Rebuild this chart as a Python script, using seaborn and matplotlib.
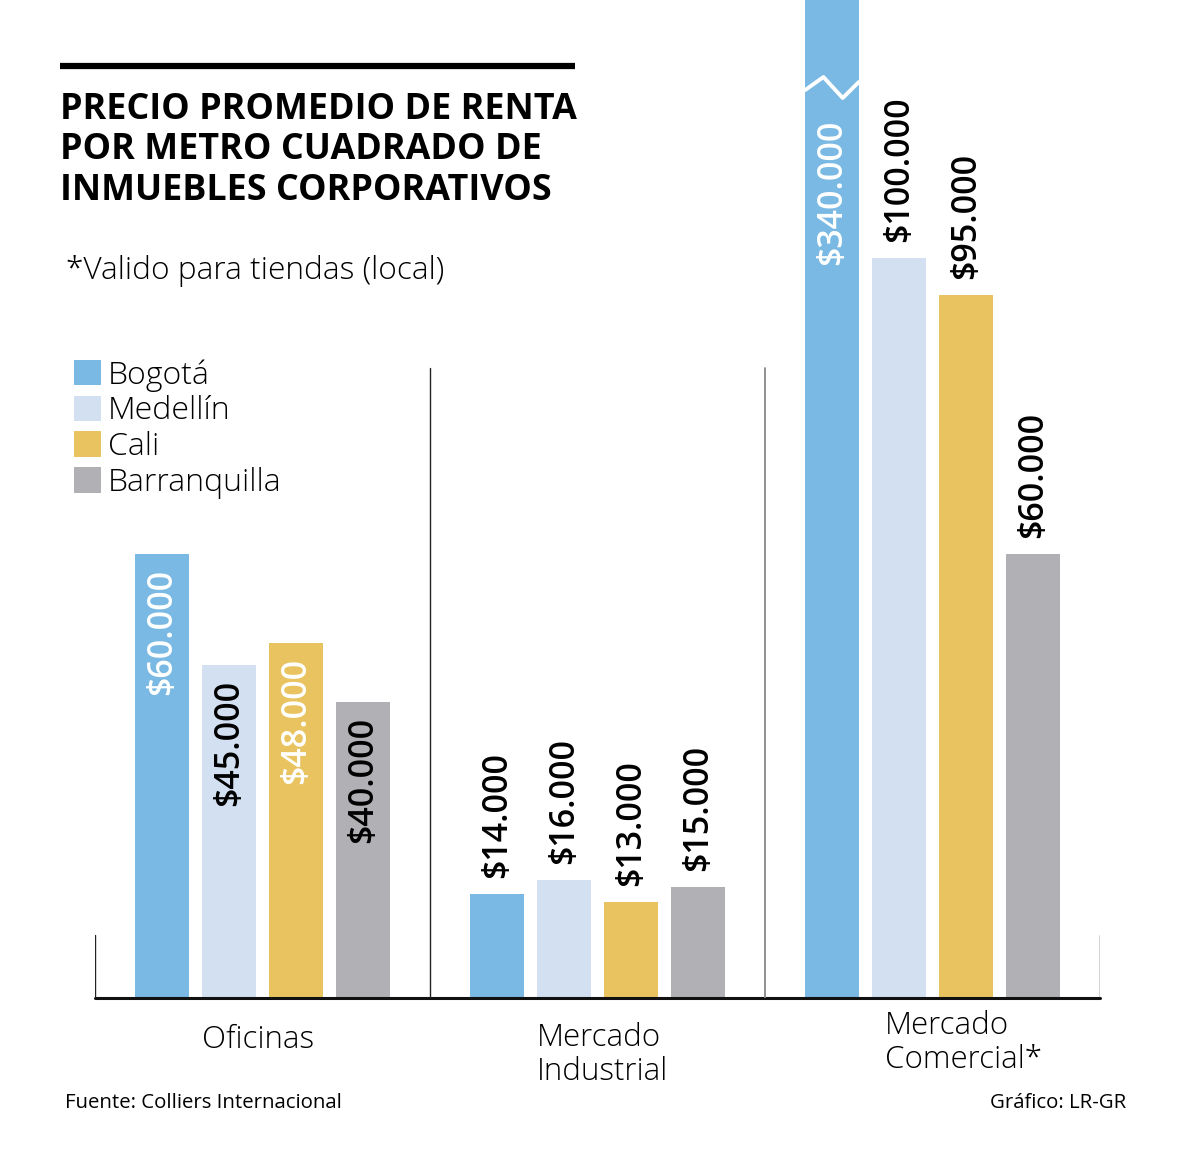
import pandas as pd
import matplotlib
matplotlib.use("Agg")
from matplotlib import pyplot as plt
from matplotlib.lines import Line2D
import seaborn as sns

sns.set_theme(style="white")
plt.rcParams["font.family"] = ["Open Sans", "DejaVu Sans"]
plt.rcParams["text.color"] = "black"

categorias = ["Oficinas", "Mercado Industrial", "Mercado Comercial*"]
ciudades = ["Bogotá", "Medellín", "Cali", "Barranquilla"]
bogota = [60000, 14000, 340000]
medellin = [45000, 16000, 100000]
cali = [48000, 13000, 95000]
barranquilla = [40000, 15000, 60000]
colores = ["#79b9e3", "#d3e0f1", "#e8c360", "#b1b0b5"]
texto_blanco = [True, False, True, False]

valores = [bogota, medellin, cali, barranquilla]
df = pd.DataFrame({
    "categoria": [c for _ in ciudades for c in categorias],
    "ciudad": [ci for ci in ciudades for _ in categorias],
    "valor": [v for serie in valores for v in serie],
})

fig = plt.figure(figsize=(12, 11.72), dpi=100)
W, H = 1200, 1172
ax = fig.add_axes([95 / W, 1 - 998 / H, 1005 / W, 998 / H])

sns.barplot(data=df, x="categoria", y="valor", hue="ciudad", order=categorias,
            hue_order=ciudades, palette=colores, saturation=1, width=0.8,
            gap=0.2, linewidth=0, ax=ax)

ax.set_xlim(-0.5, 2.5)
ax.set_ylim(0, 998 / 0.0074)
for s in ax.spines.values():
    s.set_visible(False)
ax.set_xticks([])
ax.set_yticks([])
ax.set_xlabel("")
ax.set_ylabel("")

# linea base y separadores
ax.axhline(0, color="#111111", lw=2.2, clip_on=False)
for x in [-0.5, 2.5]:
    ax.axvline(x, ymin=0, ymax=0.063, color="#222222", lw=1)
ax.axvline(0.5, ymin=0, ymax=0.631, color="#222222", lw=1)
ax.axvline(1.5, ymin=0, ymax=0.631, color="#888888", lw=1.3)

ymax = ax.get_ylim()[1]
for k, (cont, ciudad) in enumerate(zip(ax.containers, ciudades)):
    for j, bar in enumerate(cont):
        v = bar.get_height()
        xc = bar.get_x() + bar.get_width() / 2
        txt = "$" + f"{int(v):,}".replace(",", ".")
        color = "white" if texto_blanco[k] else "black"
        if v > ymax:
            # barra cortada
            x0, w = bar.get_x(), bar.get_width()
            zx = [x0, x0 + 0.34 * w, x0 + 0.70 * w, x0 + w]
            zy = [0.9098, 0.9228, 0.9018, 0.9178]
            ax.add_line(Line2D(zx, zy, color="white", lw=2.8,
                               transform=ax.get_xaxis_transform(), clip_on=False))
            ax.text(xc, 0.88, txt, transform=ax.get_xaxis_transform(),
                    rotation=90, ha="center", va="top", color=color,
                    fontsize=24.5, fontweight="semibold")
        elif j == 0:
            ax.annotate(txt, (xc, v), xytext=(0, -15), textcoords="offset pixels",
                        rotation=90, ha="center", va="top", color=color,
                        fontsize=24.5, fontweight="semibold")
        else:
            ax.annotate(txt, (xc, v), xytext=(0, 16), textcoords="offset pixels",
                        rotation=90, ha="center", va="bottom", color="black",
                        fontsize=24.5, fontweight="semibold")

sns.move_legend(ax, loc="upper left", bbox_to_anchor=(74 / W, 1 - 359 / H),
                bbox_transform=fig.transFigure, title=None, frameon=False,
                fontsize=23, handlelength=0.85, handleheight=0.85,
                handletextpad=0.2, labelspacing=0.12, borderpad=0, borderaxespad=0)
for t in ax.get_legend().get_texts():
    t.set_fontweight("light")
    t.set_color("black")

# encabezado
fig.add_artist(Line2D([60 / W, 575 / W], [1 - 66 / H, 1 - 66 / H], color="black",
                      lw=4.5, solid_capstyle="butt"))
fig.text(60 / W, 1 - 92 / H, "PRECIO PROMEDIO DE RENTA\nPOR METRO CUADRADO DE\nINMUEBLES CORPORATIVOS",
         ha="left", va="top", fontsize=25.8, fontweight="bold", linespacing=1.16)
fig.text(66 / W, 1 - 271 / H, "*Valido para tiendas (local)", ha="left", va="center",
         fontsize=22.8, fontweight="light")

# categorias
fig.text(202 / W, 1 - 1040 / H, "Oficinas", ha="left", va="center", fontsize=22.5, fontweight="light")
fig.text(537 / W, 1 - 1055 / H, "Mercado\nIndustrial", ha="left", va="center",
         fontsize=22.5, fontweight="light", linespacing=1.05)
fig.text(885 / W, 1 - 1043 / H, "Mercado\nComercial*", ha="left", va="center",
         fontsize=22.5, fontweight="light", linespacing=1.05)

fig.text(65 / W, 1 - 1103 / H, "Fuente: Colliers Internacional", ha="left", va="center", fontsize=14.7)
fig.text(1126 / W, 1 - 1103 / H, "Gráfico: LR-GR", ha="right", va="center", fontsize=14.7)

fig.savefig("out.png", dpi=100, facecolor="white")
